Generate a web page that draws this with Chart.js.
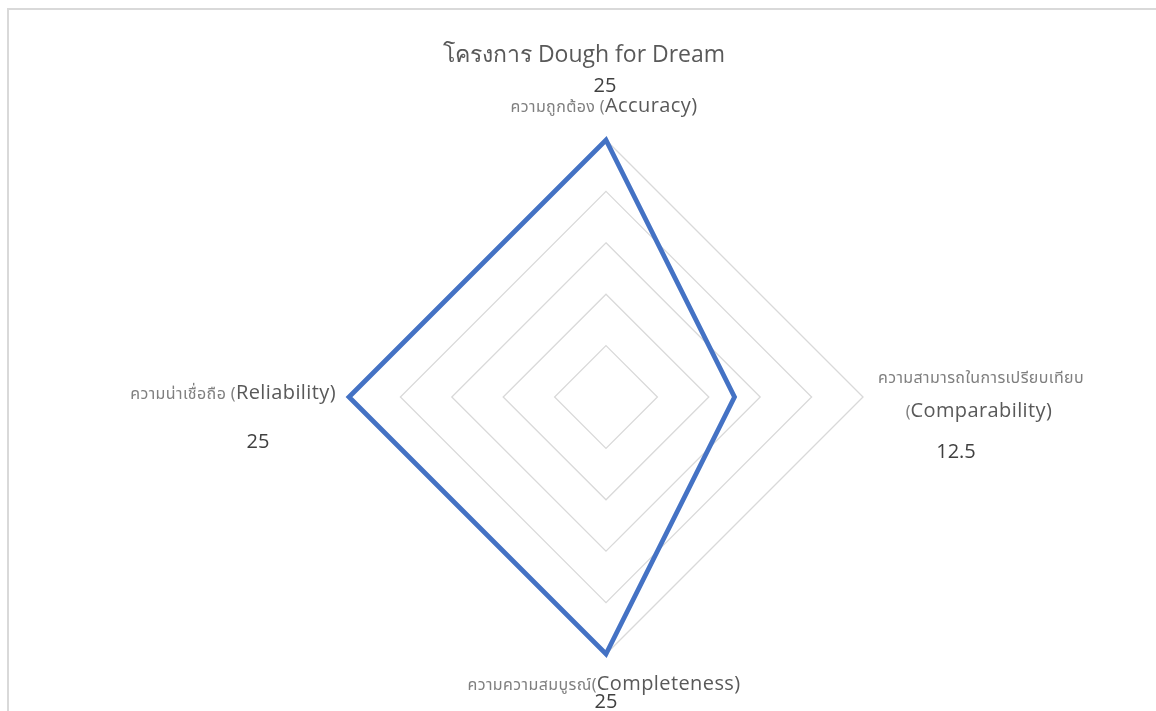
<!DOCTYPE html>
<html>
<head>
<meta charset="utf-8">
<script src="https://cdn.jsdelivr.net/npm/chart.js@4"></script>
<style>
  html, body { margin: 0; padding: 0; background: #fff; }
  #wrap { position: relative; width: 1156px; height: 711px; overflow: hidden; }
  #frame { position: absolute; left: 7px; top: 8px; width: 1200px; height: 760px;
           border-top: 2px solid #d9d9d9; border-left: 2px solid #d9d9d9; box-sizing: border-box; pointer-events: none; }
  canvas { position: absolute; left: 0; top: 0; }
</style>
</head>
<body>
<div id="wrap">
  <div id="frame"></div>
  <canvas id="c" width="1156" height="711"></canvas>
</div>
<script>
const chartTitle = "โครงการ Dough for Dream";
const categoriesThai = ["ความถูกต้อง (", "ความสามารถในการเปรียบเทียบ", "ความความสมบูรณ์(", "ความน่าเชื่อถือ ("];
const categoriesEng = ["Accuracy)", "(Comparability)", "Completeness)", "Reliability)"];
const categories = ["ความถูกต้อง (Accuracy)", "ความสามารถในการเปรียบเทียบ (Comparability)", "ความความสมบูรณ์(Completeness)", "ความน่าเชื่อถือ (Reliability)"];
const seriesValues = [25, 12.5, 25, 25];
const valueLabels = ["25", "12.5", "25", "25"];
const axisMax = 25;
const axisStep = 5;

const thaiFont = "16px 'Noto Sans Thai', 'Noto Sans', 'Open Sans', sans-serif";
const engFont = "20px 'Open Sans', 'Noto Sans', sans-serif";
const valFont = "20px 'Open Sans', 'Noto Sans', sans-serif";
const thaiSpacing = '0.4px';
const engSpacing = '0.4px';

function drawMixed(ctx, parts, x, y, align) {
  let total = 0;
  parts.forEach(p => { ctx.font = p.font; ctx.letterSpacing = p.ls || '0px'; p.w = ctx.measureText(p.t).width; total += p.w; });
  let sx = align === 'center' ? x - total / 2 : (align === 'right' ? x - total : x);
  ctx.textAlign = 'left';
  ctx.textBaseline = 'alphabetic';
  parts.forEach(p => { ctx.font = p.font; ctx.letterSpacing = p.ls || '0px'; ctx.fillStyle = p.color; ctx.fillText(p.t, sx, y); sx += p.w; });
  ctx.letterSpacing = '0px';
}

function drawValue(ctx, t, x, y) {
  ctx.font = valFont; ctx.letterSpacing = '0px'; ctx.fillStyle = '#404040'; ctx.textAlign = 'center'; ctx.textBaseline = 'alphabetic';
  ctx.fillText(t, x, y);
}

const labelPlugin = {
  id: 'labelPlugin',
  afterDraw(chart) {
    const ctx = chart.ctx;
    const scale = chart.scales.r;
    ctx.save();
    ctx.font = "23px 'Open Sans', 'Noto Sans', sans-serif";
    ctx.fillStyle = '#595959';
    ctx.textAlign = 'center';
    ctx.textBaseline = 'alphabetic';
    ctx.fillText(chartTitle, scale.xCenter - 22, 62);

    const th = '#7f7f7f', en = '#595959';
    const p = categories.map((c, i) => scale.getPointPositionForValue(i, axisMax));
    // top: Accuracy
    drawValue(ctx, valueLabels[0], p[0].x - 1, p[0].y - 48);
    drawMixed(ctx, [{t: categoriesThai[0], font: thaiFont, color: th, ls: thaiSpacing}, {t: categoriesEng[0], font: engFont, color: en, ls: engSpacing}], p[0].x - 2, p[0].y - 28, 'center');
    // right: Comparability
    drawMixed(ctx, [{t: categoriesThai[1], font: thaiFont, color: th, ls: thaiSpacing}], p[1].x + 118, p[1].y - 14, 'center');
    drawMixed(ctx, [{t: categoriesEng[1].slice(0, 1), font: thaiFont, color: th}, {t: categoriesEng[1].slice(1), font: engFont, color: en, ls: engSpacing}], p[1].x + 116, p[1].y + 20, 'center');
    drawValue(ctx, valueLabels[1], p[1].x + 93, p[1].y + 61);
    // bottom: Completeness
    drawMixed(ctx, [{t: categoriesThai[2], font: thaiFont, color: th, ls: thaiSpacing}, {t: categoriesEng[2], font: engFont, color: en, ls: engSpacing}], p[2].x - 2, p[2].y + 36, 'center');
    drawValue(ctx, valueLabels[2], p[2].x, p[2].y + 54);
    // left: Reliability
    drawMixed(ctx, [{t: categoriesThai[3], font: thaiFont, color: th, ls: thaiSpacing}, {t: categoriesEng[3], font: engFont, color: en, ls: engSpacing}], p[3].x - 13, p[3].y + 2, 'right');
    drawValue(ctx, valueLabels[3], p[3].x - 91, p[3].y + 51);
    ctx.restore();
  }
};

new Chart(document.getElementById('c'), {
  type: 'radar',
  data: {
    labels: categories,
    datasets: [{
      label: chartTitle,
      data: seriesValues,
      borderColor: '#4472C4',
      backgroundColor: 'rgba(0,0,0,0)',
      borderWidth: 4.8,
      borderJoinStyle: 'miter',
      pointRadius: 0,
      pointHoverRadius: 0,
      fill: false,
      tension: 0
    }]
  },
  options: {
    responsive: false,
    animation: false,
    events: [],
    layout: { padding: { left: 56, right: 0, top: 140, bottom: 57 } },
    plugins: { legend: { display: false }, title: { display: false }, tooltip: { enabled: false } },
    scales: {
      r: {
        min: 0,
        max: axisMax,
        ticks: { display: false, stepSize: axisStep },
        grid: { color: '#d9d9d9', lineWidth: 1.3 },
        angleLines: { display: false },
        pointLabels: { display: false }
      }
    }
  },
  plugins: [labelPlugin]
});
</script>
</body>
</html>
